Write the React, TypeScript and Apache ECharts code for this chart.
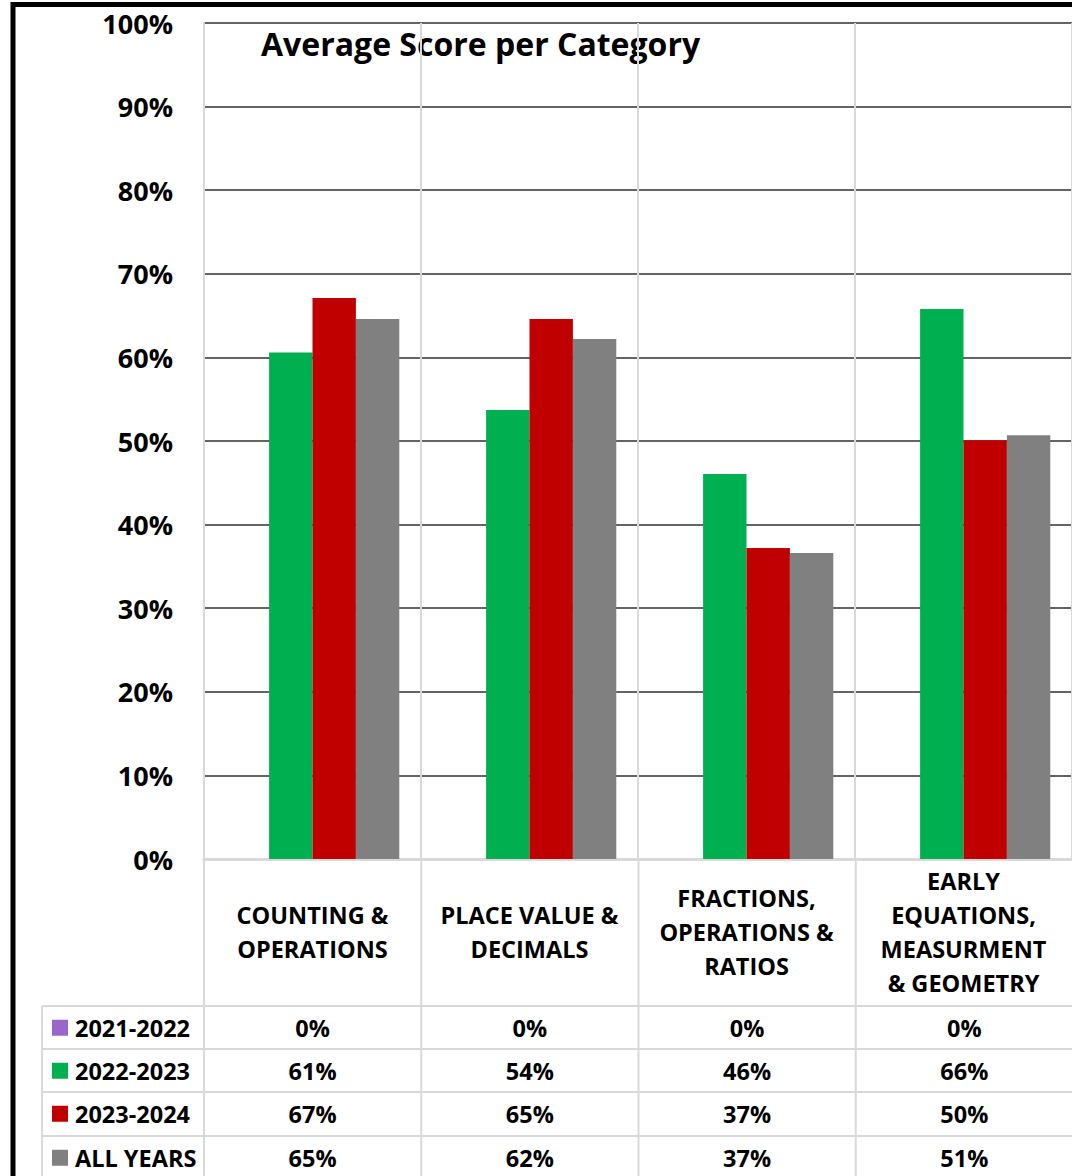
import React, { useEffect, useRef } from "react";
import * as echarts from "echarts";

const categories = [
  "COUNTING &\nOPERATIONS",
  "PLACE VALUE &\nDECIMALS",
  "FRACTIONS,\nOPERATIONS &\nRATIOS",
  "EARLY\nEQUATIONS,\nMEASURMENT\n& GEOMETRY",
];
const seriesNames = ["2021-2022", "2022-2023", "2023-2024", "ALL YEARS"];
const seriesColors = ["#9966CC", "#00B050", "#C00000", "#808080"];
const values2122 = [0, 0, 0, 0];
const values2223 = [0.606, 0.537, 0.4605, 0.658];
const values2324 = [0.671, 0.646, 0.372, 0.501];
const valuesAll = [0.646, 0.622, 0.366, 0.507];
const yTicks = [0, 0.1, 0.2, 0.3, 0.4, 0.5, 0.6, 0.7, 0.8, 0.9, 1];
const chartTitle = "Average Score per Category";

const FONT = "'Open Sans', Lato, sans-serif";

export default function App() {
  const ref = useRef<HTMLDivElement>(null);
  useEffect(() => {
    if (!ref.current) return;
    const chart = echarts.init(ref.current, undefined, { renderer: "svg" });
    const allValues = [values2122, values2223, values2324, valuesAll];

    const gridLeft = 204;
    const gridTop = 23;
    const gridW = 869;
    const gridH = 836;
    const colW = gridW / categories.length;
    const tableLeft = 42;
    const rowTops = [1006, 1049, 1092, 1136];
    const rowH = 43.5;
    const lineColor = "#d9d9d9";

    const graphics: any[] = [];
    rowTops.forEach((y) => {
      graphics.push({
        type: "line",
        shape: { x1: tableLeft, y1: y, x2: 1072, y2: y },
        style: { stroke: lineColor, lineWidth: 2 },
      });
    });
    graphics.push({
      type: "line",
      shape: { x1: tableLeft, y1: rowTops[0], x2: tableLeft, y2: 1176 },
      style: { stroke: lineColor, lineWidth: 2 },
    });
    for (let i = 0; i < categories.length; i++) {
      const x = gridLeft + i * colW;
      graphics.push({
        type: "line",
        shape: { x1: x, y1: gridTop + gridH, x2: x, y2: 1176 },
        style: { stroke: lineColor, lineWidth: 2 },
      });
    }
    seriesNames.forEach((name, r) => {
      const cy = rowTops[r] + rowH / 2;
      graphics.push({
        type: "rect",
        shape: { x: 52, y: cy - 8, width: 16, height: 16 },
        style: { fill: seriesColors[r] },
      });
      graphics.push({
        type: "text",
        x: 75,
        y: cy,
        style: {
          text: name,
          font: `bold 23.5px ${FONT}`,
          fill: "#000",
          align: "left",
          verticalAlign: "middle",
        },
      });
      allValues[r].forEach((v, c) => {
        graphics.push({
          type: "text",
          x: gridLeft + (c + 0.5) * colW,
          y: cy,
          style: {
            text: Math.round(v * 100) + "%",
            font: `bold 23.5px ${FONT}`,
            fill: "#000",
            align: "center",
            verticalAlign: "middle",
          },
        });
      });
    });
    graphics.push({
      type: "text",
      x: 261,
      y: 43,
      style: {
        text: chartTitle,
        font: `bold 32px ${FONT}`,
        fill: "#000",
        align: "left",
        verticalAlign: "middle",
      },
    });
    graphics.push({
      type: "polyline",
      shape: { points: [[13, 1180], [13, 4.5], [1080, 4.5]] },
      style: { stroke: "#000", lineWidth: 5, fill: "none" },
    });

    const option: any = {
      animation: false,
      backgroundColor: "#fff",
      grid: { left: gridLeft, top: gridTop, width: gridW, height: gridH, containLabel: false },
      xAxis: {
        type: "category",
        data: categories,
        axisTick: { show: false },
        axisLine: { show: true, lineStyle: { color: lineColor, width: 3 } },
        splitLine: { show: true, interval: 0, lineStyle: { color: lineColor, width: 2 } },
        axisLabel: {
          interval: 0,
          margin: 73,
          verticalAlign: "middle",
          lineHeight: 34,
          fontFamily: FONT,
          fontWeight: "bold",
          fontSize: 23.5,
          color: "#000",
          align: "center",
        },
        z: 3,
      },
      yAxis: {
        type: "value",
        min: 0,
        max: 1,
        interval: 0.1,
        axisLine: { show: true, lineStyle: { color: lineColor, width: 2 } },
        axisTick: { show: false },
        splitLine: { show: true, lineStyle: { color: "#646464", width: 2 } },
        axisLabel: {
          margin: 31,
          fontFamily: FONT,
          fontWeight: "bold",
          fontSize: 27,
          color: "#000",
          formatter: (v: number) => {
            const t = yTicks.find((k) => Math.abs(k - v) < 1e-9);
            return Math.round((t ?? v) * 100) + "%";
          },
        },
      },
      series: seriesNames.map((name, i) => ({
        name,
        type: "bar",
        data: allValues[i],
        barGap: "0%",
        barCategoryGap: "20%",
        itemStyle: { color: seriesColors[i] },
        z: 4,
      })),
      graphic: graphics,
    };
    chart.setOption(option);
    return () => chart.dispose();
  }, []);
  return (
    <div
      ref={ref}
      style={{ position: "absolute", left: 0, top: 0, width: 1072, height: 1176 }}
    />
  );
}
